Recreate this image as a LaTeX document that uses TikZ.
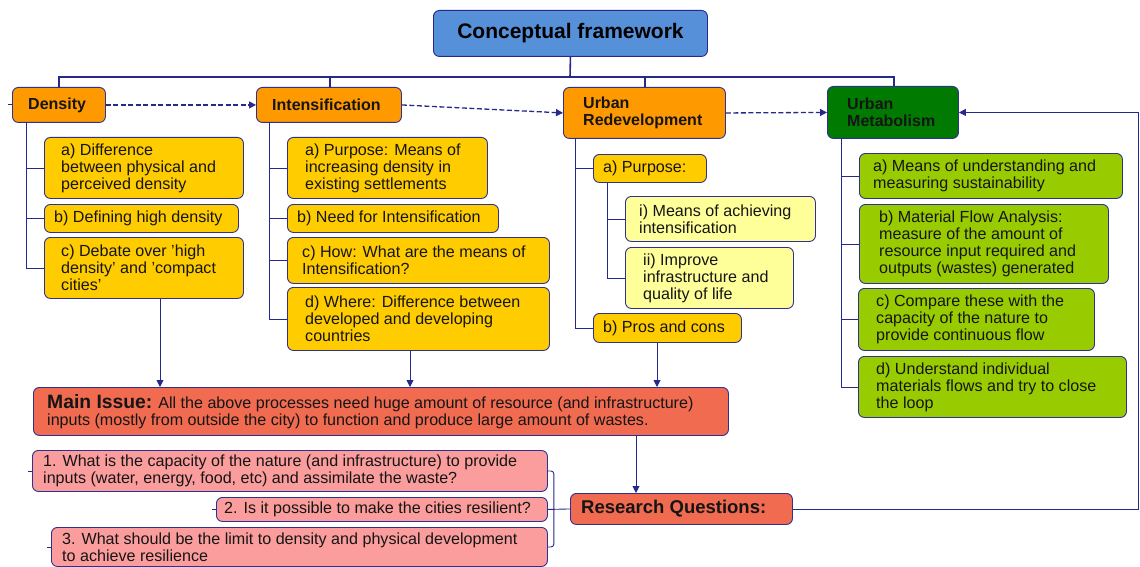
\documentclass[tikz,border=0pt]{standalone}
\usepackage{fontspec}
\setmainfont{Liberation Sans}
\usetikzlibrary{arrows.meta}
\definecolor{navy}{HTML}{26298C}
\definecolor{bordc}{HTML}{2E3192}
\definecolor{titlec}{HTML}{5690D8}
\definecolor{orangec}{HTML}{FF9900}
\definecolor{yellowc}{HTML}{FFCC00}
\definecolor{lyellowc}{HTML}{FFFF99}
\definecolor{dgreenc}{HTML}{007A00}
\definecolor{limec}{HTML}{99CC00}
\definecolor{coralc}{HTML}{F06B50}
\definecolor{pinkc}{HTML}{FB9D9D}
\definecolor{textc}{HTML}{151515}
\tikzset{
  box/.style={draw=bordc, line width=0.9pt, rounded corners=6pt, inner sep=0pt},
  txt/.style={inner sep=0pt, align=left, text=textc, font=\fontsize{16.1}{17}\selectfont},
  hdr/.style={inner sep=0pt, align=left, text=textc, font=\fontsize{16}{17}\selectfont\bfseries},
  ln/.style={draw=navy, line width=0.9pt},
  arr/.style={draw=navy, line width=0.9pt, -{Triangle[length=7pt,width=7pt]}},
  darr/.style={draw=navy, line width=1.3pt, dash pattern=on 5pt off 2.5pt, -{Triangle[length=7pt,width=7pt]}},
}
\newcommand\bx[8]{%
  \node[box,#2,anchor=north west,minimum width=#5pt-#3pt,minimum height=#6pt-#4pt] (#1) at (#3,#4) {};
  \node[txt,anchor=west] (#1-t) at ([xshift=#7pt]#1.west) {#8};}
\newcommand\hbx[8]{%
  \node[box,#2,anchor=north west,minimum width=#5pt-#3pt,minimum height=#6pt-#4pt] (#1) at (#3,#4) {};
  \node[hdr,anchor=west] (#1-t) at ([xshift=#7pt]#1.west) {#8};}
\begin{document}
\begin{tikzpicture}[x=1pt,y=-1pt]
\useasboundingbox[fill=white] (0,0) rectangle (1140,567);

% title
\node[box,fill=titlec,draw=navy,anchor=north west,minimum width=274pt,minimum height=46pt,
      font=\fontsize{21}{24}\selectfont\bfseries,text=black] (title) at (433,10) {Conceptual framework};

% headers
\hbx{den}{fill=orangec}{12}{87}{105}{122}{16}{Density}
\hbx{int}{fill=orangec}{256}{87}{401}{122}{16}{Intensification}
\hbx{ur}{fill=orangec}{563}{87}{725}{138}{20}{Urban\\Redevelopment}
\hbx{um}{fill=dgreenc}{827}{86}{958}{138}{20}{Urban\\Metabolism}

% density items
\bx{dena}{fill=yellowc}{44}{137}{243}{198}{17}{a) Difference\\between physical and\\perceived density}
\bx{denb}{fill=yellowc}{44}{204}{238}{232}{10}{b) Defining high density}
\bx{denc}{fill=yellowc}{44}{237}{243}{298}{17}{c) Debate over 'high\\density' and 'compact\\cities'}

% intensification items
\bx{inta}{fill=yellowc}{287}{137}{487}{198}{18}{a) Purpose: Means of\\increasing density in\\existing settlements}
\bx{intb}{fill=yellowc}{287}{204}{498}{232}{10}{b) Need for Intensification}
\bx{intc}{fill=yellowc}{287}{237}{549}{283}{15}{c) How: What are the means of\\Intensification?}
\bx{intd}{fill=yellowc}{287}{287}{549}{350}{18}{d) Where: Difference between\\developed and developing\\countries}

% urban redevelopment items
\bx{ura}{fill=yellowc}{593}{154}{706}{182}{10}{a) Purpose:}
\bx{uri}{fill=lyellowc}{625}{196}{815}{241}{14}{i) Means of achieving\\intensification}
\bx{urii}{fill=lyellowc}{625}{247}{793}{308}{18}{ii) Improve\\infrastructure and\\quality of life}
\bx{urb}{fill=yellowc}{593}{313}{741}{342}{10}{b) Pros and cons}

% urban metabolism items
\bx{uma}{fill=limec}{859}{153}{1122}{198}{14}{a) Means of understanding and\\measuring sustainability}
\bx{umb}{fill=limec}{859}{204}{1108}{283}{20}{b) Material Flow Analysis:\\measure of the amount of\\resource input required and\\outputs (wastes) generated}
\bx{umc}{fill=limec}{858}{288}{1094}{350}{18}{c) Compare these with the\\capacity of the nature to\\provide continuous flow}
\bx{umd}{fill=limec}{858}{356}{1126}{417}{18}{d) Understand individual\\materials flows and try to close\\the loop}

% main issue
\bx{mi}{fill=coralc}{33}{387}{728}{435}{14}{{\fontsize{19.3}{17}\selectfont\bfseries Main Issue:}\hspace{6pt}All the above processes need huge amount of resource (and infrastructure)\\inputs (mostly from outside the city) to function and produce large amount of wastes.}

% research questions
\node[box,fill=coralc,anchor=north west,minimum width=222pt,minimum height=31pt] (rq) at (570,493) {};
\node[inner sep=0pt,anchor=west,text=textc,font=\fontsize{18.5}{20}\selectfont\bfseries] (rq-t) at ([xshift=11pt]rq.west) {Research Questions:};

\bx{q1}{fill=pinkc}{32}{450}{547}{491}{11}{1. What is the capacity of the nature (and infrastructure) to provide\\inputs (water, energy, food, etc) and assimilate the waste?}
\bx{q2}{fill=pinkc}{216}{497}{547}{521}{8}{2. Is it possible to make the cities resilient?}
\bx{q3}{fill=pinkc}{51}{527}{547}{566}{11}{3. What should be the limit to density and physical development\\to achieve resilience}

% top connectors
\coordinate (hub) at (570,77);
\draw[draw=navy,line width=1.6pt] (title.south) -- (hub);
\draw[ln,line width=1.3pt] (hub) -| ([xshift=47pt]den.north west);
\draw[ln,line width=1.3pt] (hub) -| ([xshift=74pt]int.north west);
\draw[ln,line width=1.3pt] (hub) -| ([xshift=82pt]ur.north west);
\draw[ln,line width=1.3pt] (hub) -| ([xshift=67pt]um.north west);

% dashed sequence
\draw[darr] (den.east) -- (int.west);
\draw[darr] (int.east) -- (ur.west);
\draw[darr] (ur.east) -- (um.west);

% density tree
\draw[ln] ([xshift=14pt]den.south west) |- (dena.west);
\draw[ln] ([xshift=14pt]den.south west) |- (denb.west);
\draw[ln] ([xshift=14pt]den.south west) |- (denc.west);
\draw[ln] (den.west) -- ++(-4,0);

% intensification tree
\draw[ln] ([xshift=13pt]int.south west) |- (inta.west);
\draw[ln] ([xshift=13pt]int.south west) |- (intb.west);
\draw[ln] ([xshift=13pt]int.south west) |- (intc.west);
\draw[ln] ([xshift=13pt]int.south west) |- (intd.west);

% urban redevelopment tree
\draw[ln] ([xshift=12pt]ur.south west) |- (ura.west);
\draw[ln] ([xshift=12pt]ur.south west) |- (urb.west);
\draw[ln] ([xshift=14pt]ura.south west) |- (uri.west);
\draw[ln] ([xshift=14pt]ura.south west) |- (urii.west);

% urban metabolism tree
\draw[ln] ([xshift=14pt]um.south west) |- (uma.west);
\draw[ln] ([xshift=14pt]um.south west) |- (umb.west);
\draw[ln] ([xshift=14pt]um.south west) |- (umc.west);
\draw[ln] ([xshift=14pt]um.south west) |- (umd.west);

% arrows down to main issue
\draw[arr] ([xshift=116pt]denc.south west) coordinate (a1) -- (a1 |- mi.north);
\draw[arr] ([xshift=123pt]intd.south west) coordinate (a2) -- (a2 |- mi.north);
\draw[arr] ([xshift=64pt]urb.south west) coordinate (a3) -- (a3 |- mi.north);
\draw[arr] ([xshift=603pt]mi.south west) coordinate (a4) -- (a4 |- rq.north);

% research question bracket
\draw[ln,rounded corners=3pt] (q1.east) -- ++(6,0) |- (q3.east);
\draw[ln] (q2.east) -- (rq.west);
\draw[ln] (q1.west) -- ++(-4,0);
\draw[ln] (q2.west) -- ++(-4,0);
\draw[ln] (q3.west) -- ++(-4,0);

% feedback loop to urban metabolism
\draw[arr] (rq.east) -- ++(346,0) |- (um.east);
\end{tikzpicture}
\end{document}
